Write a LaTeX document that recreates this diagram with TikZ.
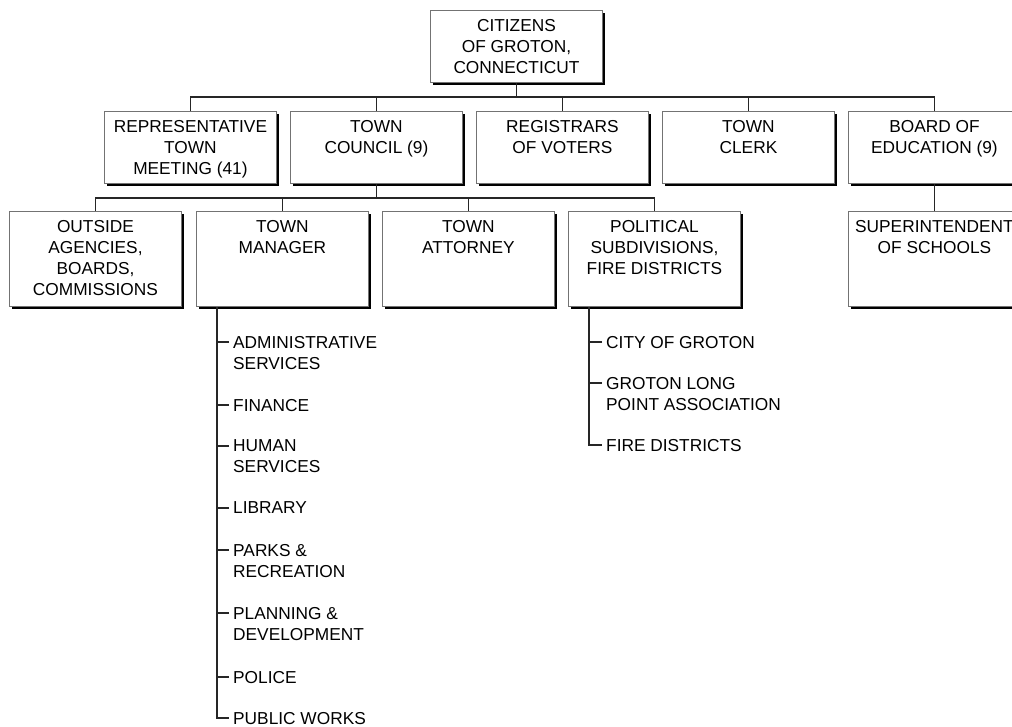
\documentclass[tikz,border=0pt]{standalone}
\usepackage{fontspec}
\setmainfont{Liberation Sans}
\usetikzlibrary{shadows}
\begin{document}
\begin{tikzpicture}[x=1pt,y=-1pt,
  box/.style={rectangle, draw=black!55, line width=0.9pt, fill=white, minimum width=172pt, anchor=north west, inner sep=0pt,
    general shadow={fill=black, shadow xshift=2.6pt, shadow yshift=-2.6pt}},
  lbl/.style={font=\fontsize{17.3}{21}\selectfont, align=center, inner sep=0pt, anchor=north},
  item/.style={font=\fontsize{17.3}{21}\selectfont, align=left, inner sep=0pt, anchor=north west},
  conn/.style={draw=black!85, line width=1.2pt}]
\useasboundingbox (0,0) rectangle (1012,727);
% boxes
\node[box, minimum height=72pt] (cit) at (430,10) {};
\node[box, minimum height=72pt] (rep) at (104,111) {};
\node[box, minimum height=72pt] (cou) at (290,111) {};
\node[box, minimum height=72pt] (reg) at (476,111) {};
\node[box, minimum height=72pt] (clk) at (662,111) {};
\node[box, minimum height=72pt] (brd) at (848,111) {};
\node[box, minimum height=95pt] (out) at (9,211) {};
\node[box, minimum height=95pt] (tm) at (196,211) {};
\node[box, minimum height=95pt] (att) at (382,211) {};
\node[box, minimum height=95pt] (pol) at (568,211) {};
\node[box, minimum height=95pt] (sup) at (848,211) {};
% box texts
\node[lbl] (citt) at ([yshift=-9pt]cit.north) {CITIZENS\\OF GROTON,\\CONNECTICUT};
\node[lbl] (rept) at ([yshift=-9pt]rep.north) {REPRESENTATIVE\\TOWN\\MEETING (41)};
\node[lbl] (cout) at ([yshift=-9pt]cou.north) {TOWN\\COUNCIL (9)};
\node[lbl] (regt) at ([yshift=-9pt]reg.north) {REGISTRARS\\OF VOTERS};
\node[lbl] (clkt) at ([yshift=-9pt]clk.north) {TOWN\\CLERK};
\node[lbl] (brdt) at ([yshift=-9pt]brd.north) {BOARD OF\\EDUCATION (9)};
\node[lbl] (outt) at ([yshift=-9.5pt]out.north) {OUTSIDE\\AGENCIES,\\BOARDS,\\COMMISSIONS};
\node[lbl] (tmt) at ([yshift=-9.5pt]tm.north) {TOWN\\MANAGER};
\node[lbl] (attt) at ([yshift=-9.5pt]att.north) {TOWN\\ATTORNEY};
\node[lbl] (polt) at ([yshift=-9.5pt]pol.north) {POLITICAL\\SUBDIVISIONS,\\FIRE DISTRICTS};
\node[lbl] (supt) at ([yshift=-9.5pt]sup.north) {SUPERINTENDENT\\OF SCHOOLS};
% connectors level 1
\draw[conn] (cit.south) -- ++(0,15);
\draw[conn] (rep.north) -- ++(0,-14) -| (brd.north);
\draw[conn] (cou.north) -- ++(0,-14);
\draw[conn] (reg.north) -- ++(0,-14);
\draw[conn] (clk.north) -- ++(0,-14);
% level 2
\draw[conn] (cou.south) -- ++(0,15);
\draw[conn] (out.north) -- ++(0,-13) -| (pol.north);
\draw[conn] (tm.north) -- ++(0,-13);
\draw[conn] (att.north) -- ++(0,-13);
\draw[conn] (brd.south) -- (sup.north);
% town manager list
\node[item] (a1) at (233,335.8) {ADMINISTRATIVE\\SERVICES};
\node[item] (a2) at (233,398.8) {FINANCE};
\node[item] (a3) at (233,439.8) {HUMAN\\SERVICES};
\node[item] (a4) at (233,501.8) {LIBRARY};
\node[item] (a5) at (233,543.8) {PARKS \&\\RECREATION};
\node[item] (a6) at (233,606.8) {PLANNING \&\\DEVELOPMENT};
\node[item] (a7) at (233,670.8) {POLICE};
\node[item] (a8) at (233,711.8) {PUBLIC WORKS};
\draw[conn] ([xshift=21pt]tm.south west) |- ([xshift=-4pt,yshift=-6.2pt]a8.north west);
\foreach \n in {a1,a2,a3,a4,a5,a6,a7}
  \draw[conn] ([xshift=-4pt,yshift=-6.2pt]\n.north west) -- ++(-12,0);
% political list
\node[item] (b1) at (606,335.8) {CITY OF GROTON};
\node[item] (b2) at (606,376.8) {GROTON LONG\\POINT ASSOCIATION};
\node[item] (b3) at (606,438.8) {FIRE DISTRICTS};
\draw[conn] ([xshift=21pt]pol.south west) |- ([xshift=-4pt,yshift=-6.2pt]b3.north west);
\foreach \n in {b1,b2}
  \draw[conn] ([xshift=-4pt,yshift=-6.2pt]\n.north west) -- ++(-13,0);
\end{tikzpicture}
\end{document}
